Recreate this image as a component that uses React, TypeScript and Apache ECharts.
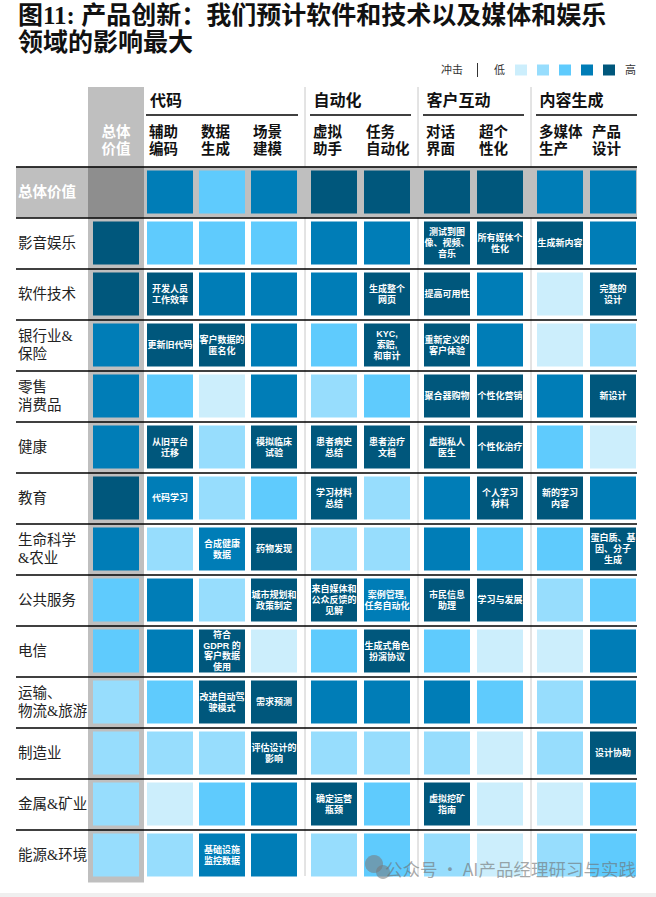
import React, { useEffect, useRef } from 'react';
import * as echarts from 'echarts';

const FONT = '"Liberation Serif", "Noto Sans CJK SC", serif';
const CELL_FONT = '"Liberation Sans", "Noto Sans CJK SC", sans-serif';

// ---------- data ----------
const titleText = '图11: 产品创新：我们预计软件和技术以及媒体和娱乐\n领域的影响最大';
const groupNames = ['代码', '自动化', '客户互动', '内容生成'];
const useCases = ['辅助\n编码', '数据\n生成', '场景\n建模', '虚拟\n助手', '任务\n自动化', '对话\n界面', '超个\n性化', '多媒体\n生产', '产品\n设计'];
const groupOfUseCase = [0, 0, 0, 1, 1, 2, 2, 3, 3];
const overallHeader = '总体\n价值';
const industries = [
  '总体价值', '影音娱乐', '软件技术', '银行业&\n保险', '零售\n消费品', '健康', '教育',
  '生命科学\n&农业', '公共服务', '电信', '运输、\n物流&旅游', '制造业', '金属&矿业', '能源&环境',
];
// 1 = lowest impact ... 5 = highest impact
const overallImpact: (number | null)[] = [null, 5, 5, 4, 4, 4, 5, 4, 3, 3, 2, 2, 2, 2];
const impact: number[][] = [
  [4, 3, 4, 5, 5, 5, 5, 4, 4],
  [3, 3, 3, 4, 4, 5, 5, 5, 4],
  [5, 4, 4, 4, 5, 5, 4, 1, 5],
  [5, 5, 4, 3, 5, 5, 4, 1, 2],
  [3, 1, 4, 2, 3, 5, 5, 4, 5],
  [5, 2, 5, 5, 5, 5, 5, 3, 1],
  [4, 2, 3, 5, 2, 4, 5, 5, 4],
  [2, 4, 5, 2, 2, 4, 3, 3, 5],
  [4, 2, 5, 5, 4, 5, 5, 2, 3],
  [4, 5, 1, 3, 5, 3, 1, 1, 4],
  [3, 5, 5, 4, 4, 4, 3, 2, 4],
  [2, 2, 5, 2, 2, 2, 1, 2, 5],
  [1, 3, 4, 5, 3, 5, 1, 1, 3],
  [2, 4, 4, 2, 3, 2, 1, 2, 3],
];
const notes: string[][] = [
  ['', '', '', '', '', '', '', '', ''],
  ['', '', '', '', '', '测试到图\n像、视频、\n音乐', '所有媒体个\n性化', '生成新内容', ''],
  ['开发人员\n工作效率', '', '', '', '生成整个\n网页', '提高可用性', '', '', '完整的\n设计'],
  ['更新旧代码', '客户数据的\n匿名化', '', '', 'KYC,\n索赔,\n和审计', '重新定义的\n客户体验', '', '', ''],
  ['', '', '', '', '', '聚合器购物', '个性化营销', '', '新设计'],
  ['从旧平台\n迁移', '', '模拟临床\n试验', '患者病史\n总结', '患者治疗\n文档', '虚拟私人\n医生', '个性化治疗', '', ''],
  ['代码学习', '', '', '学习材料\n总结', '', '', '个人学习\n材料', '新的学习\n内容', ''],
  ['', '合成健康\n数据', '药物发现', '', '', '', '', '', '蛋白质、基\n因、分子\n生成'],
  ['', '', '城市规划和\n政策制定', '来自媒体和\n公众反馈的\n见解', '案例管理,\n任务自动化', '市民信息\n助理', '学习与发展', '', ''],
  ['', '符合\nGDPR 的\n客户数据\n使用', '', '', '生成式角色\n扮演协议', '', '', '', ''],
  ['', '改进自动驾\n驶模式', '需求预测', '', '', '', '', '', ''],
  ['', '', '评估设计的\n影响', '', '', '', '', '', '设计协助'],
  ['', '', '', '确定运营\n瓶颈', '', '虚拟挖矿\n指南', '', '', ''],
  ['', '基础设施\n监控数据', '', '', '', '', '', '', ''],
];
const levels = [1, 2, 3, 4, 5];
const levelColors = ['#CCEEFC', '#97DDFD', '#5FCBFD', '#007DB7', '#00577C'];
const legendTitle = '冲击';
const legendEnds = ['高', '低'];
const watermark = '公众号 · AI产品经理研习与实践';

// ---------- layout ----------
const GRID_TOP = 166.5;
const ROW_H = 51;
const CELL_W = 46;
const CELL_H = 43;
const LABEL_LEFT = 16;
const LABEL_RIGHT = 637;
const overallGrid = { left: 90, width: 52 };
const groupGrids = [
  { left: 144, width: 156 },
  { left: 307.5, width: 106 },
  { left: 420.5, width: 106 },
  { left: 533.5, width: 106 },
];

function makeRenderItem(noteList: string[]) {
  return (params: any, api: any) => {
    const c = api.coord([api.value(0), api.value(1)]);
    const color = api.visual('color');
    const note = noteList[params.dataIndex];
    const children: any[] = [
      {
        type: 'rect',
        shape: { x: c[0] - CELL_W / 2, y: c[1] - CELL_H / 2, width: CELL_W, height: CELL_H },
        style: { fill: color },
      },
    ];
    if (note) {
      const n = note.split('\n').length;
      children.push({
        type: 'text',
        style: {
          text: note,
          x: c[0],
          y: c[1],
          fill: '#ffffff',
          font: `bold 9px ${CELL_FONT}`,
          align: 'center',
          verticalAlign: 'middle',
          textAlign: 'center',
          textVerticalAlign: 'middle',
          lineHeight: n > 3 ? 10.5 : 11,
        },
      });
    }
    return { type: 'group', children };
  };
}

function buildOption(): any {
  const gridH = industries.length * ROW_H;
  const grids = [
    { left: LABEL_LEFT, width: LABEL_RIGHT - LABEL_LEFT },
    overallGrid,
    ...groupGrids,
  ].map((g) => ({ left: g.left, width: g.width, top: GRID_TOP, height: gridH, containLabel: false }));

  const subLabelRich = {
    h: { width: 42, align: 'left', fontSize: 14.5, fontWeight: 'bold', fontFamily: FONT, lineHeight: 17, color: '#111' },
  };

  const xAxes: any[] = [
    { gridIndex: 0, type: 'value', show: false },
    {
      gridIndex: 1, type: 'category', position: 'top', data: [overallHeader],
      axisLine: { show: false }, axisTick: { show: false },
      axisLabel: { interval: 0, margin: 9, color: '#ffffff', fontWeight: 'bold', fontSize: 14.5, lineHeight: 17, fontFamily: FONT },
    },
    ...groupNames.map((_, g) => ({
      gridIndex: g + 2, type: 'category', position: 'top',
      data: useCases.filter((_, i) => groupOfUseCase[i] === g),
      axisLine: { show: false }, axisTick: { show: false },
      axisLabel: {
        interval: 0, margin: 9,
        formatter: (v: string) => v.split('\n').map((s) => `{h|${s}}`).join('\n'),
        rich: subLabelRich,
      },
    })),
  ];

  const lineColors = industries.map(() => '#000000').concat(['rgba(0,0,0,0)']);
  const yAxes: any[] = [
    {
      gridIndex: 0, type: 'category', inverse: true,
      data: industries.map((n, i) => (i === 0 ? { value: n, textStyle: { color: '#ffffff', fontWeight: 'bold' } } : n)),
      axisLine: { show: false }, axisTick: { show: false },
      axisLabel: { inside: true, margin: 2, interval: 0, fontSize: 14.5, lineHeight: 18, color: '#222', fontFamily: FONT },
      splitLine: { show: true, lineStyle: { color: lineColors, width: 1.5 } },
    },
    ...[1, 2, 3, 4, 5].map((gi) => ({ gridIndex: gi, type: 'category', inverse: true, data: industries, show: false })),
  ];

  const series: any[] = [];
  const overallData: any[] = [];
  overallImpact.forEach((v, r) => {
    if (v != null) overallData.push([0, r, v]);
  });
  series.push({
    type: 'custom', xAxisIndex: 1, yAxisIndex: 1, data: overallData,
    encode: { x: 0, y: 1 }, renderItem: makeRenderItem(overallData.map(() => '')),
  });
  groupNames.forEach((_, g) => {
    const cols = useCases.map((_, i) => i).filter((i) => groupOfUseCase[i] === g);
    const data: any[] = [];
    const nl: string[] = [];
    industries.forEach((_, r) => {
      cols.forEach((c, k) => {
        data.push([k, r, impact[r][c]]);
        nl.push(notes[r][c]);
      });
    });
    series.push({
      type: 'custom', xAxisIndex: g + 2, yAxisIndex: g + 2, data,
      encode: { x: 0, y: 1 }, renderItem: makeRenderItem(nl),
    });
  });

  const graphics: any[] = [];
  // gray "overall" column and header band
  graphics.push({ type: 'rect', z: -10, shape: { x: overallGrid.left - 2, y: 87, width: overallGrid.width + 4, height: 795.5 }, style: { fill: '#BFBFBF' } });
  graphics.push({ type: 'rect', z: -9, shape: { x: LABEL_LEFT, y: GRID_TOP, width: LABEL_RIGHT - LABEL_LEFT, height: ROW_H }, style: { fill: '#BFBFBF' } });
  graphics.push({ type: 'rect', z: -8, shape: { x: overallGrid.left - 2, y: GRID_TOP, width: overallGrid.width + 4, height: ROW_H }, style: { fill: '#8E8E8E' } });
  // group separators, headers, underlines
  groupGrids.forEach((gr, g) => {
    const n = useCases.filter((_, i) => groupOfUseCase[i] === g).length;
    const pitch = gr.width / n;
    const firstLeft = gr.left + pitch / 2 - CELL_W / 2;
    const lastRight = gr.left + gr.width - pitch / 2 + CELL_W / 2;
    if (g > 0) {
      graphics.push({ type: 'line', z: -11, shape: { x1: gr.left - 2.5, y1: 87, x2: gr.left - 2.5, y2: 876 }, style: { stroke: '#C8C8C8', lineWidth: 1 } });
    }
    graphics.push({
      type: 'text', z: 1,
      style: { text: groupNames[g], x: gr.left + 6, y: 100, fill: '#111', font: `bold 16px ${FONT}`, align: 'left', verticalAlign: 'middle', textAlign: 'left', textVerticalAlign: 'middle' },
    });
    graphics.push({ type: 'line', z: 1, shape: { x1: firstLeft - 1, y1: 115, x2: lastRight + 1, y2: 115 }, style: { stroke: '#000', lineWidth: 1.5 } });
  });
  // legend prefix
  graphics.push({
    type: 'text', z: 1,
    style: { text: legendTitle, x: 441, y: 70, fill: '#333', font: `11px ${FONT}`, align: 'left', verticalAlign: 'middle', textAlign: 'left', textVerticalAlign: 'middle' },
  });
  graphics.push({ type: 'line', z: 1, shape: { x1: 477.5, y1: 63, x2: 477.5, y2: 77 }, style: { stroke: '#333', lineWidth: 1 } });
  // watermark
  graphics.push({ type: 'circle', z: 5, shape: { cx: 374, cy: 864, r: 9 }, style: { fill: 'rgba(120,120,120,0.55)' } });
  graphics.push({ type: 'circle', z: 5, shape: { cx: 383, cy: 872, r: 7 }, style: { fill: 'rgba(120,120,120,0.55)' } });
  graphics.push({
    type: 'text', z: 5,
    style: { text: watermark, x: 636, y: 868, fill: 'rgba(110,110,110,0.6)', font: `17.5px "Noto Sans CJK SC", sans-serif`, align: 'right', verticalAlign: 'middle', textAlign: 'right', textVerticalAlign: 'middle' },
  });
  // bottom strip
  graphics.push({ type: 'rect', z: -10, shape: { x: 0, y: 893, width: 656, height: 4 }, style: { fill: '#EFEFEF' } });

  return {
    animation: false,
    backgroundColor: '#ffffff',
    title: {
      text: titleText, left: 18, top: 1.5, padding: 0,
      textStyle: { fontSize: 25, fontWeight: 'bold', lineHeight: 27, color: '#111', fontFamily: FONT },
    },
    grid: grids,
    xAxis: xAxes,
    yAxis: yAxes,
    visualMap: {
      type: 'piecewise', dimension: 2, seriesIndex: [0, 1, 2, 3, 4],
      pieces: levels.map((l, i) => ({ value: l, color: levelColors[i] })),
      orient: 'horizontal', right: 20, top: 64.5, padding: 0,
      itemWidth: 12, itemHeight: 11, itemGap: 10, itemSymbol: 'rect',
      showLabel: false, text: legendEnds, textGap: 12, selectedMode: false, hoverLink: false,
      textStyle: { fontSize: 11, color: '#333', fontFamily: FONT },
    },
    graphic: { elements: graphics },
    series,
  };
}

export default function App() {
  const ref = useRef<HTMLDivElement>(null);
  useEffect(() => {
    if (!ref.current) return;
    const chart = echarts.init(ref.current, null, { renderer: 'svg' });
    chart.setOption(buildOption());
    return () => chart.dispose();
  }, []);
  return (
    <div
      ref={ref}
      style={{ position: 'absolute', left: 0, top: 0, width: 656, height: 897, background: '#ffffff' }}
    />
  );
}
